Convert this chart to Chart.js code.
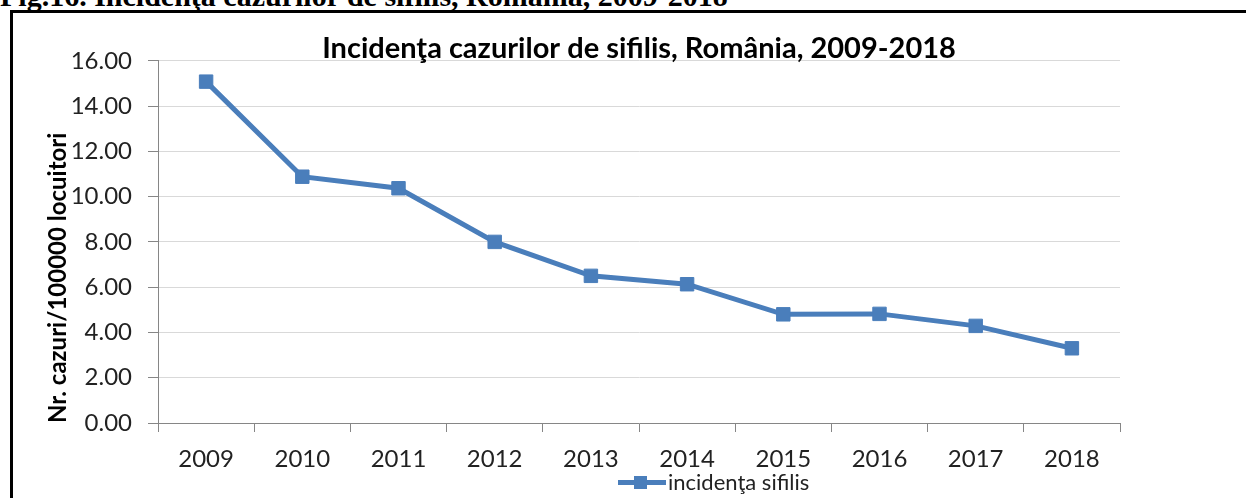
<!DOCTYPE html>
<html>
<head>
<meta charset="utf-8">
<script src="https://cdn.jsdelivr.net/npm/chart.js@4"></script>
<style>
  html, body { margin: 0; padding: 0; background: #fff; }
  body { width: 1246px; height: 498px; position: relative; overflow: hidden; }
  #caption {
    position: absolute; left: 0; top: -19px; white-space: nowrap;
    font: bold 30px "Liberation Serif", serif; line-height: 30px; color: #000;
  }
  #frame {
    position: absolute; left: 10px; top: 10px; width: 1240px; height: 500px;
    border-left: 3px solid #000; border-top: 3px solid #000;
  }
  #wrap { position: absolute; left: 0; top: 0; width: 1246px; height: 498px; }
  #legend {
    position: absolute; left: 618px; top: 469px; height: 26px;
    font: 22px Lato, sans-serif; color: #222; white-space: nowrap;
  }
  #legend .sym { display: inline-block; position: relative; width: 48px; height: 26px; vertical-align: top; }
  #legend .sym .ln { position: absolute; left: 0; top: 11px; width: 48px; height: 5px; background: #4a7ebb; }
  #legend .sym .sq { position: absolute; left: 16px; top: 7px; width: 13px; height: 13px; background: #4a7ebb; }
  #legend .txt { display: inline-block; line-height: 26px; vertical-align: top; margin-left: 2px; }
</style>
</head>
<body>
<div id="caption">Fig.16.  Incidenţa cazurilor de sifilis, România, 2009-2018</div>
<div id="frame"></div>
<div id="wrap"><canvas id="chart" width="1246" height="498"></canvas></div>
<div id="legend"><span class="sym"><span class="ln"></span><span class="sq"></span></span><span class="txt">incidenţa sifilis</span></div>
<script>
const years = ["2009", "2010", "2011", "2012", "2013", "2014", "2015", "2016", "2017", "2018"];
const incidence = [15.08, 10.88, 10.37, 8.00, 6.50, 6.13, 4.80, 4.82, 4.29, 3.30];
const seriesName = "incidenţa sifilis";
const chartTitle = "Incidenţa cazurilor de sifilis, România, 2009-2018";
const yTitle = "Nr. cazuri/100000 locuitori";

const blue = "#4a7ebb";
const axisGray = "#868686";

new Chart(document.getElementById("chart"), {
    type: "line",
    data: {
        labels: years,
        datasets: [{
            label: seriesName,
            data: incidence,
            borderColor: blue,
            backgroundColor: blue,
            borderWidth: 5,
            pointStyle: "rect",
            pointRadius: 9.5,
            pointBorderWidth: 1,
            pointBackgroundColor: blue,
            pointBorderColor: blue,
            tension: 0,
            fill: false
        }]
    },
    options: {
        responsive: false,
        animation: false,
        layout: { padding: { left: 40, right: 126, top: 0, bottom: 0 } },
        plugins: {
            legend: { display: false },
            tooltip: { enabled: false },
            title: {
                display: true,
                text: chartTitle,
                fullSize: false,
                color: "#000",
                font: { family: "Lato", size: 29, weight: "bold", lineHeight: 1.2 },
                padding: { top: 31, bottom: -5 }
            }
        },
        scales: {
            x: {
                offset: true,
                grid: { offset: true, drawOnChartArea: false, tickLength: 9, tickColor: axisGray },
                border: { color: axisGray },
                ticks: { color: "#222", padding: 13, font: { family: "Lato", size: 24 }, maxRotation: 0 },
                afterFit: s => { s.height = 75; }
            },
            y: {
                min: 0,
                max: 16,
                grid: { color: "#d9d9d9", tickLength: 10, tickColor: axisGray },
                border: { color: axisGray },
                ticks: {
                    stepSize: 2,
                    padding: 16,
                    color: "#222",
                    font: { family: "Lato", size: 24 },
                    callback: v => v.toFixed(2)
                },
                title: {
                    display: true,
                    text: yTitle,
                    align: "start",
                    color: "#000",
                    font: { family: "Lato", size: 24, weight: "bold", lineHeight: 1.2 }
                },
                afterFit: s => { s.width = 118; }
            }
        }
    }
});
</script>
</body>
</html>
